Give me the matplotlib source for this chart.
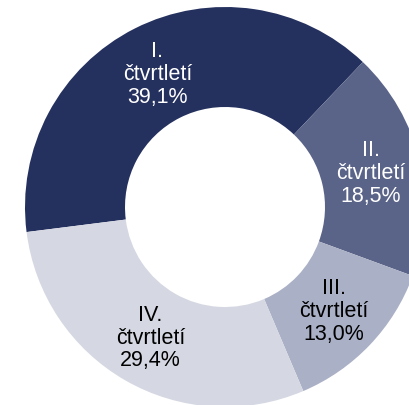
import matplotlib
matplotlib.use("Agg")
import matplotlib.pyplot as plt

# Podíl jednotlivých čtvrtletí
labels = ["I.\nčtvrtletí", "II.\nčtvrtletí", "III.\nčtvrtletí", "IV.\nčtvrtletí"]
shares = [39.1, 18.5, 13.0, 29.4]
colors = ["#24305E", "#5A6388", "#AAB0C5", "#D5D8E2"]
text_colors = ["white", "white", "black", "black"]

plt.rcParams["font.family"] = ["Liberation Sans", "DejaVu Sans"]

fig = plt.figure(figsize=(4.10, 4.06), dpi=100)
# pie centre at (225, 208) px from top-left, outer radius 200 px (cropped right/bottom)
ax = fig.add_axes([25 / 410, -2 / 406, 400 / 410, 400 / 406])

# Czech decimal comma
pie_labels = [lab + "\n" + f"{s:.1f}".replace(".", ",") + "%" for lab, s in zip(labels, shares)]

wedges, texts = ax.pie(
    shares,
    labels=pie_labels,
    colors=colors,
    startangle=187.2,
    counterclock=False,
    radius=1.0,
    labeldistance=0.75,
    wedgeprops=dict(width=0.5, edgecolor="none"),
    textprops=dict(fontsize=15.5, linespacing=1.12),
)
for t, c in zip(texts, text_colors):
    t.set_color(c)
    t.set_horizontalalignment("center")
    t.set_verticalalignment("center")

ax.set_xlim(-1, 1)
ax.set_ylim(-1, 1)
ax.set_aspect("equal")
ax.axis("off")

fig.savefig("out.png", dpi=100)
